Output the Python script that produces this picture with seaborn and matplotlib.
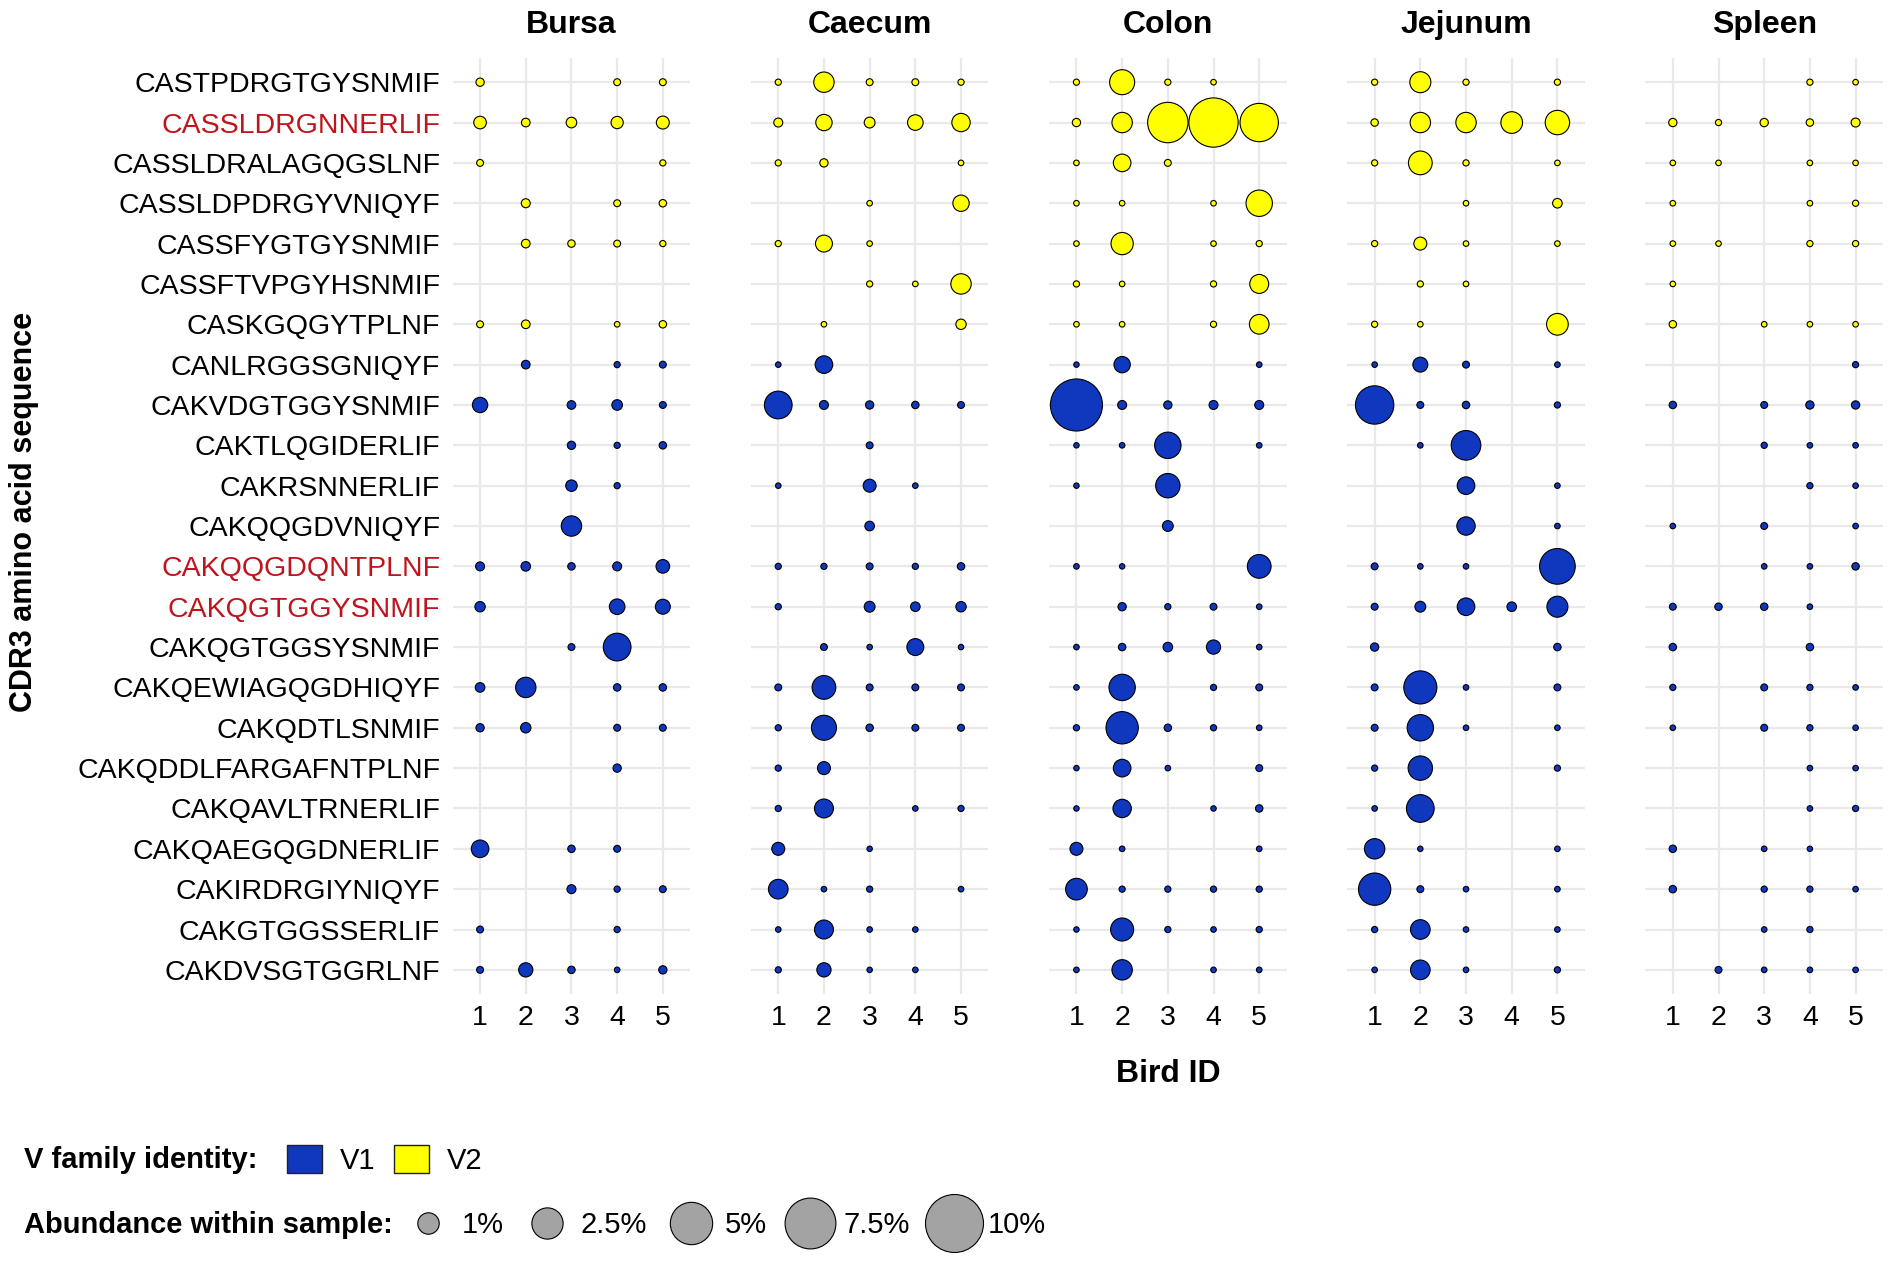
import numpy as np
import pandas as pd
import seaborn as sns
import matplotlib.pyplot as plt
from matplotlib.colors import FuncNorm
from matplotlib.lines import Line2D
from matplotlib.patches import Patch

tissues = ["Bursa", "Caecum", "Colon", "Jejunum", "Spleen"]
birds = [1, 2, 3, 4, 5]
sequences = [
    "CASTPDRGTGYSNMIF", "CASSLDRGNNERLIF", "CASSLDRALAGQGSLNF", "CASSLDPDRGYVNIQYF",
    "CASSFYGTGYSNMIF", "CASSFTVPGYHSNMIF", "CASKGQGYTPLNF", "CANLRGGSGNIQYF",
    "CAKVDGTGGYSNMIF", "CAKTLQGIDERLIF", "CAKRSNNERLIF", "CAKQQGDVNIQYF",
    "CAKQQGDQNTPLNF", "CAKQGTGGYSNMIF", "CAKQGTGGSYSNMIF", "CAKQEWIAGQGDHIQYF",
    "CAKQDTLSNMIF", "CAKQDDLFARGAFNTPLNF", "CAKQAVLTRNERLIF", "CAKQAEGQGDNERLIF",
    "CAKIRDRGIYNIQYF", "CAKGTGGSSERLIF", "CAKDVSGTGGRLNF",
]
v_family = ["V2"] * 7 + ["V1"] * 16
highlighted = ["CASSLDRGNNERLIF", "CAKQQGDQNTPLNF", "CAKQGTGGYSNMIF"]

# abundance within sample (%), rows = sequences, columns = birds 1-5, 0 = not found
bursa = [
    [0.05, 0, 0, 0.02, 0.02], [0.23, 0.06, 0.13, 0.21, 0.25], [0.02, 0, 0, 0, 0.01],
    [0, 0.07, 0, 0.02, 0.03], [0, 0.06, 0.03, 0.02, 0.01], [0, 0, 0, 0, 0],
    [0.02, 0.06, 0, 0.004, 0.03], [0, 0.06, 0, 0.01, 0.02], [0.41, 0, 0.06, 0.13, 0.02],
    [0, 0, 0.05, 0.01, 0.03], [0, 0, 0.17, 0.01, 0], [0, 0, 0.88, 0, 0],
    [0.07, 0.09, 0.03, 0.07, 0.29], [0.12, 0, 0, 0.43, 0.38], [0, 0, 0.02, 1.88, 0],
    [0.09, 0.88, 0, 0.03, 0.03], [0.05, 0.12, 0, 0.02, 0.02], [0, 0, 0, 0.05, 0],
    [0, 0, 0, 0, 0], [0.6, 0, 0.03, 0.02, 0], [0, 0, 0.07, 0.01, 0.02],
    [0.02, 0, 0, 0.01, 0], [0.02, 0.33, 0.03, 0.004, 0.05],
]
caecum = [
    [0.01, 0.88, 0.02, 0.02, 0.01], [0.07, 0.49, 0.14, 0.43, 0.67], [0.01, 0.05, 0, 0, 0.004],
    [0, 0, 0.004, 0, 0.49], [0.01, 0.54, 0.004, 0, 0], [0, 0, 0.01, 0.004, 0.88],
    [0, 0.004, 0, 0, 0.12], [0.004, 0.6, 0, 0, 0], [1.88, 0.07, 0.05, 0.03, 0.02],
    [0, 0, 0.02, 0, 0], [0.004, 0, 0.25, 0.004, 0], [0, 0, 0.09, 0, 0],
    [0.01, 0.01, 0.02, 0.01, 0.03], [0.01, 0, 0.14, 0.09, 0.12], [0, 0.02, 0.004, 0.54, 0.003],
    [0.02, 1.29, 0.02, 0.02, 0.02], [0.01, 1.47, 0.03, 0.02, 0.02], [0.01, 0.25, 0, 0, 0],
    [0.01, 0.73, 0, 0.004, 0.01], [0.25, 0, 0.003, 0, 0], [0.8, 0.004, 0.01, 0, 0.004],
    [0.004, 0.73, 0.004, 0.004, 0], [0.01, 0.33, 0.003, 0.004, 0],
]
colon = [
    [0.01, 1.47, 0.01, 0.004, 0], [0.05, 0.88, 4.5, 7.0, 4.0], [0.004, 0.6, 0.02, 0, 0],
    [0.004, 0.004, 0, 0.004, 1.67], [0.004, 1.1, 0, 0.004, 0.01], [0.01, 0.004, 0, 0.01, 0.73],
    [0.004, 0.004, 0, 0.01, 0.8], [0.003, 0.49, 0, 0, 0.004], [7.9, 0.07, 0.05, 0.07, 0.07],
    [0.003, 0.004, 1.67, 0, 0.004], [0.003, 0, 1.38, 0, 0], [0, 0, 0.14, 0, 0],
    [0.004, 0.003, 0, 0, 1.29], [0, 0.05, 0.01, 0.02, 0.004], [0.004, 0.03, 0.09, 0.33, 0.004],
    [0.004, 1.67, 0, 0.01, 0.02], [0.01, 2.7, 0.03, 0.01, 0.004], [0.003, 0.6, 0.004, 0, 0.02],
    [0.003, 0.67, 0, 0.003, 0.03], [0.25, 0.004, 0, 0, 0.004], [1.03, 0.01, 0.01, 0.01, 0.01],
    [0.003, 1.2, 0.01, 0.004, 0.01], [0.004, 0.88, 0, 0.004, 0.004],
]
jejunum = [
    [0.01, 0.95, 0.01, 0, 0.01], [0.03, 0.88, 0.88, 1.03, 1.38], [0.01, 1.29, 0.01, 0, 0.004],
    [0, 0, 0.004, 0, 0.09], [0.01, 0.25, 0.004, 0, 0.004], [0, 0.01, 0.004, 0, 0],
    [0.01, 0.004, 0, 0, 1.03], [0.004, 0.38, 0.02, 0, 0.004], [4.0, 0.02, 0.03, 0, 0.01],
    [0, 0.004, 2.2, 0, 0], [0, 0, 0.6, 0, 0.004], [0, 0, 0.67, 0, 0.004],
    [0.02, 0.004, 0.004, 0, 3.4], [0.02, 0.14, 0.6, 0.09, 0.95], [0.05, 0, 0, 0, 0.03],
    [0.02, 2.85, 0.004, 0, 0.02], [0.02, 1.67, 0.004, 0, 0.004], [0.01, 1.38, 0, 0, 0.01],
    [0.004, 1.88, 0, 0, 0], [0.88, 0.003, 0, 0, 0.004], [2.7, 0.02, 0.004, 0, 0.004],
    [0.01, 0.8, 0.004, 0, 0.004], [0.004, 0.8, 0.004, 0, 0.01],
]
spleen = [
    [0, 0, 0, 0.01, 0.004], [0.05, 0.01, 0.05, 0.03, 0.07], [0.004, 0.004, 0, 0.004, 0.004],
    [0.004, 0, 0, 0.004, 0.01], [0.004, 0.004, 0, 0.01, 0.01], [0.004, 0, 0, 0, 0],
    [0.03, 0, 0.004, 0.004, 0.004], [0, 0, 0, 0, 0.01], [0.03, 0, 0.02, 0.05, 0.05],
    [0, 0, 0.01, 0.004, 0.004], [0, 0, 0, 0.01, 0.004], [0.004, 0, 0.02, 0, 0.004],
    [0, 0, 0.004, 0.004, 0.03], [0.02, 0.03, 0.03, 0.004, 0], [0.03, 0, 0, 0.03, 0],
    [0.01, 0, 0.02, 0.01, 0.004], [0.004, 0, 0.02, 0.01, 0.004], [0, 0, 0, 0.004, 0.004],
    [0, 0, 0, 0.004, 0.01], [0.03, 0, 0.004, 0.003, 0], [0.03, 0, 0.01, 0.01, 0.004],
    [0, 0, 0.004, 0.01, 0], [0, 0.02, 0.004, 0.004, 0.004],
]

legend_levels = [1, 2.5, 5, 7.5, 10]
legend_labels = ["1%", "2.5%", "5%", "7.5%", "10%"]
palette = {"V1": "#1038be", "V2": "#ffff00"}

rows = []
for tissue, table in zip(tissues, [bursa, caecum, colon, jejunum, spleen]):
    for i, seq in enumerate(sequences):
        for b, val in zip(birds, table[i]):
            if val > 0:
                rows.append({"tissue": tissue, "sequence": seq, "row": i, "bird": b,
                             "abundance": val, "vfam": v_family[i]})
df = pd.DataFrame(rows)

sns.set_style("white")
plt.rcParams["font.family"] = ["Liberation Sans", "DejaVu Sans"]
plt.rcParams["text.color"] = "black"
plt.rcParams["xtick.color"] = "black"
plt.rcParams["ytick.color"] = "black"
plt.rcParams["axes.labelcolor"] = "black"

# ggplot-like size scale: diameter = d0 + d1 * sqrt(value / 10)
px = 72 / 100
d0, d1 = 4.5 * px, 53.5 * px


def area(v):
    return (d0 + d1 * np.sqrt(np.clip(v, 0, None) / 10)) ** 2


def area_inv(s):
    return 10 * ((np.sqrt(s) - d0) / d1) ** 2


norm = FuncNorm((area, area_inv), vmin=0, vmax=10)

fig, axes = plt.subplots(1, 5, figsize=(18.9, 12.66), dpi=100, sharey=True)
fig.subplots_adjust(left=0.2395, right=0.9963, top=0.9542, bottom=0.2148, wspace=0.255)

for ax, tissue in zip(axes, tissues):
    ax.grid(True, color="#e9e9e9", linewidth=1.6, zorder=0)
    ax.set_axisbelow(True)
    sub = df[df.tissue == tissue]
    sns.scatterplot(data=sub, x="bird", y="row", hue="vfam", palette=palette,
                    size="abundance", sizes=(area(0), area(10)), size_norm=norm,
                    edgecolor="black", linewidth=0.8, legend=False, ax=ax, zorder=3)
    ax.set_xlim(0.4, 5.6)
    ax.set_ylim(len(sequences) - 0.4, -0.6)
    ax.set_xticks(birds)
    ax.set_yticks(range(len(sequences)))
    ax.set_xlabel("")
    ax.set_ylabel("")
    ax.set_title(tissue, fontsize=23, fontweight="bold", pad=18, color="black")
    ax.tick_params(length=0, labelsize=20.5, colors="black")
    ax.tick_params(axis="x", pad=8)
    ax.tick_params(axis="y", pad=9)
    for s in ax.spines.values():
        s.set_visible(False)

axes[0].set_yticklabels(sequences)
for lab, seq in zip(axes[0].get_yticklabels(), sequences):
    if seq in highlighted:
        lab.set_color("#c0141c")

W, H = 1890, 1266
fig.text(24 / W, 1 - 512 / H, "CDR3 amino acid sequence", rotation=90, ha="center",
         va="center", fontsize=22, fontweight="bold")
fig.text(1168 / W, 1 - 1074 / H, "Bird ID", ha="center", va="center", fontsize=23,
         fontweight="bold")
fig.text(24 / W, 1 - 1160 / H, "V family identity:", ha="left", va="center", fontsize=21,
         fontweight="bold")
fig.text(24 / W, 1 - 1225 / H, "Abundance within sample:", ha="left", va="center",
         fontsize=21, fontweight="bold")

vf_handles = [Patch(facecolor=palette[v], edgecolor="#222222", linewidth=1) for v in ["V1", "V2"]]
fig.legend(vf_handles, ["V1", "V2"], loc="center left", bbox_to_anchor=(287 / W, 1 - 1160 / H),
           ncol=2, frameon=False, fontsize=21, handlelength=1.2, handleheight=1.1,
           handletextpad=0.6, columnspacing=0.65, borderpad=0, borderaxespad=0)

size_handles = [Line2D([], [], linestyle="none", marker="o", markersize=np.sqrt(area(v)),
                       markerfacecolor="#a3a3a3", markeredgecolor="black", markeredgewidth=0.8)
                for v in legend_levels]
fig.legend(size_handles, legend_labels, loc="center left", bbox_to_anchor=(406 / W, 1 - 1225 / H),
           ncol=5, frameon=False, fontsize=21, handlelength=1.5, handletextpad=0.4,
           columnspacing=0.75, borderpad=0, borderaxespad=0)

fig.savefig("out.png", dpi=100)
